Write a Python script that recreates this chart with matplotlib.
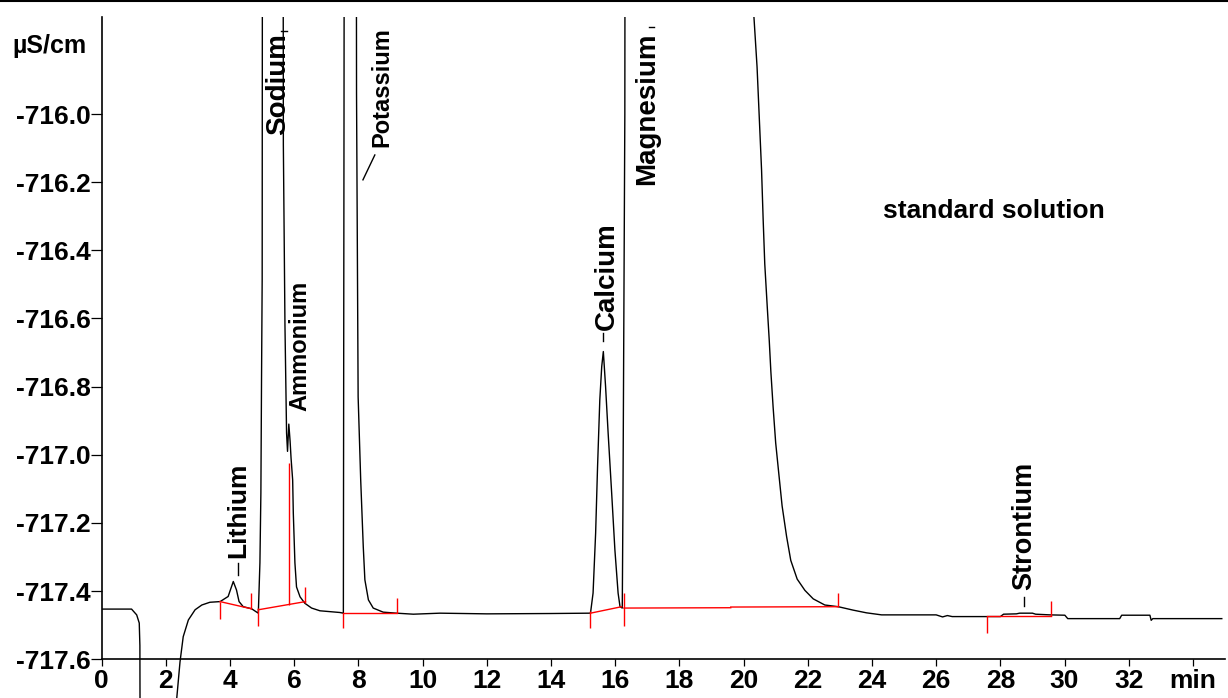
import matplotlib
matplotlib.use("Agg")
import matplotlib.pyplot as plt
from matplotlib.lines import Line2D

plt.rcParams['font.family'] = ['Liberation Sans', 'DejaVu Sans']
plt.rcParams['font.weight'] = 'bold'

# chromatogram trace (time in min, conductivity in uS/cm)
time_min = [0.00, 0.93, 1.09, 1.17, 1.19, 1.20, 2.30, 2.34, 2.44, 2.54, 2.70, 2.91, 3.12,
            3.37, 3.69, 3.94, 4.10, 4.20, 4.28, 4.41, 4.67, 4.83, 4.88, 4.93, 4.96,
            4.98, 5.00, 5.01, 5.65, 5.66, 5.71, 5.76, 5.79, 5.83, 5.87, 5.90, 5.95,
            5.97, 6.02, 6.07, 6.18, 6.33, 6.54, 6.80, 7.42, 7.53, 7.55, 7.56, 7.93,
            7.94, 7.99, 8.07, 8.15, 8.20, 8.31, 8.46, 8.77, 9.19, 9.71, 10.54, 12.0,
            14.0, 15.20, 15.23, 15.31, 15.39, 15.45, 15.52, 15.58, 15.63, 15.70, 15.78,
            15.89, 15.99, 16.09, 16.15, 16.22, 16.24, 16.30, 16.31, 20.30, 20.32, 20.42,
            20.49, 20.56, 20.61, 20.66, 20.74, 20.80, 20.85, 20.92, 21.00, 21.10, 21.20,
            21.34, 21.47, 21.67, 21.91, 22.17, 22.53, 22.95, 23.41, 23.83, 24.30, 26.00,
            26.20, 26.35, 26.50, 28.00, 28.10, 28.50, 28.60, 29.00, 29.10, 29.55, 30.01,
            30.10, 31.72, 31.78, 32.66, 32.70, 32.75, 34.90]
signal = [-717.453, -717.453, -717.470, -717.494, -717.560, -718.000, -718.000, -717.713,
          -717.608, -717.534, -717.485, -717.455, -717.441, -717.433, -717.431, -717.416,
          -717.372, -717.397, -717.431, -717.446, -717.452, -717.462, -717.465, -717.317,
          -717.112, -716.780, -716.486, -715.000, -715.000, -716.090, -716.620, -716.936,
          -716.990, -716.910, -716.960, -717.010, -717.074, -717.171, -717.317, -717.388,
          -717.417, -717.436, -717.450, -717.458, -717.463, -717.465, -716.000, -715.000,
          -715.000, -715.938, -716.830, -717.074, -717.270, -717.367, -717.426, -717.450,
          -717.462, -717.465, -717.468, -717.465, -717.467, -717.466, -717.465, -717.465,
          -717.406, -717.230, -717.035, -716.839, -716.741, -716.697, -716.800, -716.937,
          -717.113, -717.279, -717.406, -717.446, -717.450, -717.162, -716.000, -715.000,
          -715.000, -715.711, -715.862, -716.013, -716.164, -716.310, -716.440, -716.570,
          -716.665, -716.756, -716.860, -716.965, -717.058, -717.150, -717.240, -717.310,
          -717.365, -717.398, -717.423, -717.441, -717.446, -717.456, -717.464, -717.470,
          -717.470, -717.476, -717.472, -717.475, -717.475, -717.468, -717.467, -717.465,
          -717.465, -717.468, -717.470, -717.471, -717.481, -717.481, -717.471, -717.471,
          -717.486, -717.481, -717.481]

# integration baselines (red)
base_t0 = [3.685, 4.88, 7.53, 15.23, 16.27, 19.60, 27.58]
base_v0 = [-717.431, -717.455, -717.465, -717.465, -717.450, -717.447, -717.472]
base_t1 = [4.66, 6.35, 9.21, 16.20, 19.60, 22.93, 29.57]
base_v1 = [-717.452, -717.431, -717.465, -717.446, -717.449, -717.446, -717.472]

# peak start / end marks (red)
mark_t = [3.685, 4.64, 4.88, 5.835, 6.35, 7.53, 9.21, 15.23, 16.27, 22.93, 27.58, 29.57]
mark_lo = [-717.483, -717.452, -717.502, -717.441, -717.436, -717.509, -717.465,
           -717.509, -717.504, -717.446, -717.522, -717.473]
mark_hi = [-717.431, -717.406, -717.450, -717.025, -717.387, -717.465, -717.420,
           -717.460, -717.406, -717.405, -717.473, -717.428]

peak_names = ["Lithium", "Sodium", "Ammonium", "Potassium", "Calcium", "Magnesium", "Strontium"]
name_t = [4.25, 5.49, 6.18, 8.73, 15.74, 16.99, 28.76]
name_v = [-717.303, -716.061, -716.871, -716.096, -716.633, -716.208, -717.397]
name_size = [19, 20, 17, 17, 20, 20, 19.5]

xticks = list(range(0, 35, 2))
xlabels = [str(v) for v in xticks[:-1]] + ["min"]
yticks = [-717.6, -717.4, -717.2, -717.0, -716.8, -716.6, -716.4, -716.2, -716.0]

W, H = 1228, 698
fig = plt.figure(figsize=(W / 100, H / 100), dpi=100)
ax = fig.add_axes([101.7 / W, 0, (1225 - 101.7) / W, (H - 17) / H])

ax.plot(time_min, signal, color='black', lw=1.0)
for a, b, c, d in zip(base_t0, base_v0, base_t1, base_v1):
    ax.plot([a, c], [b, d], color='#ff0000', lw=1.0)
ax.vlines(mark_t, mark_lo, mark_hi, color='#ff0000', lw=1.0)

ax.set_xlim(0, 35.0)
ax.set_ylim(-717.714, -715.715)

for s in ['top', 'right']:
    ax.spines[s].set_visible(False)
ax.spines['bottom'].set_position(('data', -717.6))
ax.spines['left'].set_bounds(-717.6, -715.715)
ax.spines['left'].set_linewidth(1.2)
ax.spines['bottom'].set_linewidth(1.2)

ax.set_xticks(xticks)
ax.set_xticklabels(xlabels)
ax.set_yticks(yticks)
ax.set_yticklabels([f"{v:.1f}" for v in yticks])
ax.tick_params(axis='y', direction='out', length=8, width=0.9, pad=0, labelsize=19)
ax.tick_params(axis='x', direction='out', length=5, width=0.9, pad=2, labelsize=19)
for lbl in ax.get_xticklabels() + ax.get_yticklabels():
    lbl.set_fontweight('bold')

for name, t, v, fs in zip(peak_names, name_t, name_v, name_size):
    ax.text(t, v, name, rotation=90, ha='center', va='bottom', fontsize=fs,
            fontweight='bold', clip_on=False)

# small leader dashes next to the peak names
ax.plot([4.24, 4.24], [-717.317, -717.353], color='black', lw=1.0)
ax.plot([5.58, 5.77], [-715.756, -715.756], color='black', lw=1.0)
ax.plot([8.14, 8.51], [-716.193, -716.120], color='black', lw=1.0)
ax.plot([15.62, 15.62], [-716.642, -716.667], color='black', lw=1.0)
ax.plot([17.05, 17.20], [-715.744, -715.744], color='black', lw=1.0)
ax.plot([28.73, 28.73], [-717.417, -717.443], color='black', lw=1.0)

ax.text(27.80, -716.284, "standard solution", ha='center', va='center',
        fontsize=19, fontweight='bold')
fig.text(12 / W, 1 - 46 / H, "µS/cm", ha='left', va='center', fontsize=18,
         fontweight='bold')

fig.add_artist(Line2D([0, 1], [1 - 1 / H, 1 - 1 / H], color='black', lw=1.5))

fig.savefig("out.png", dpi=100)
